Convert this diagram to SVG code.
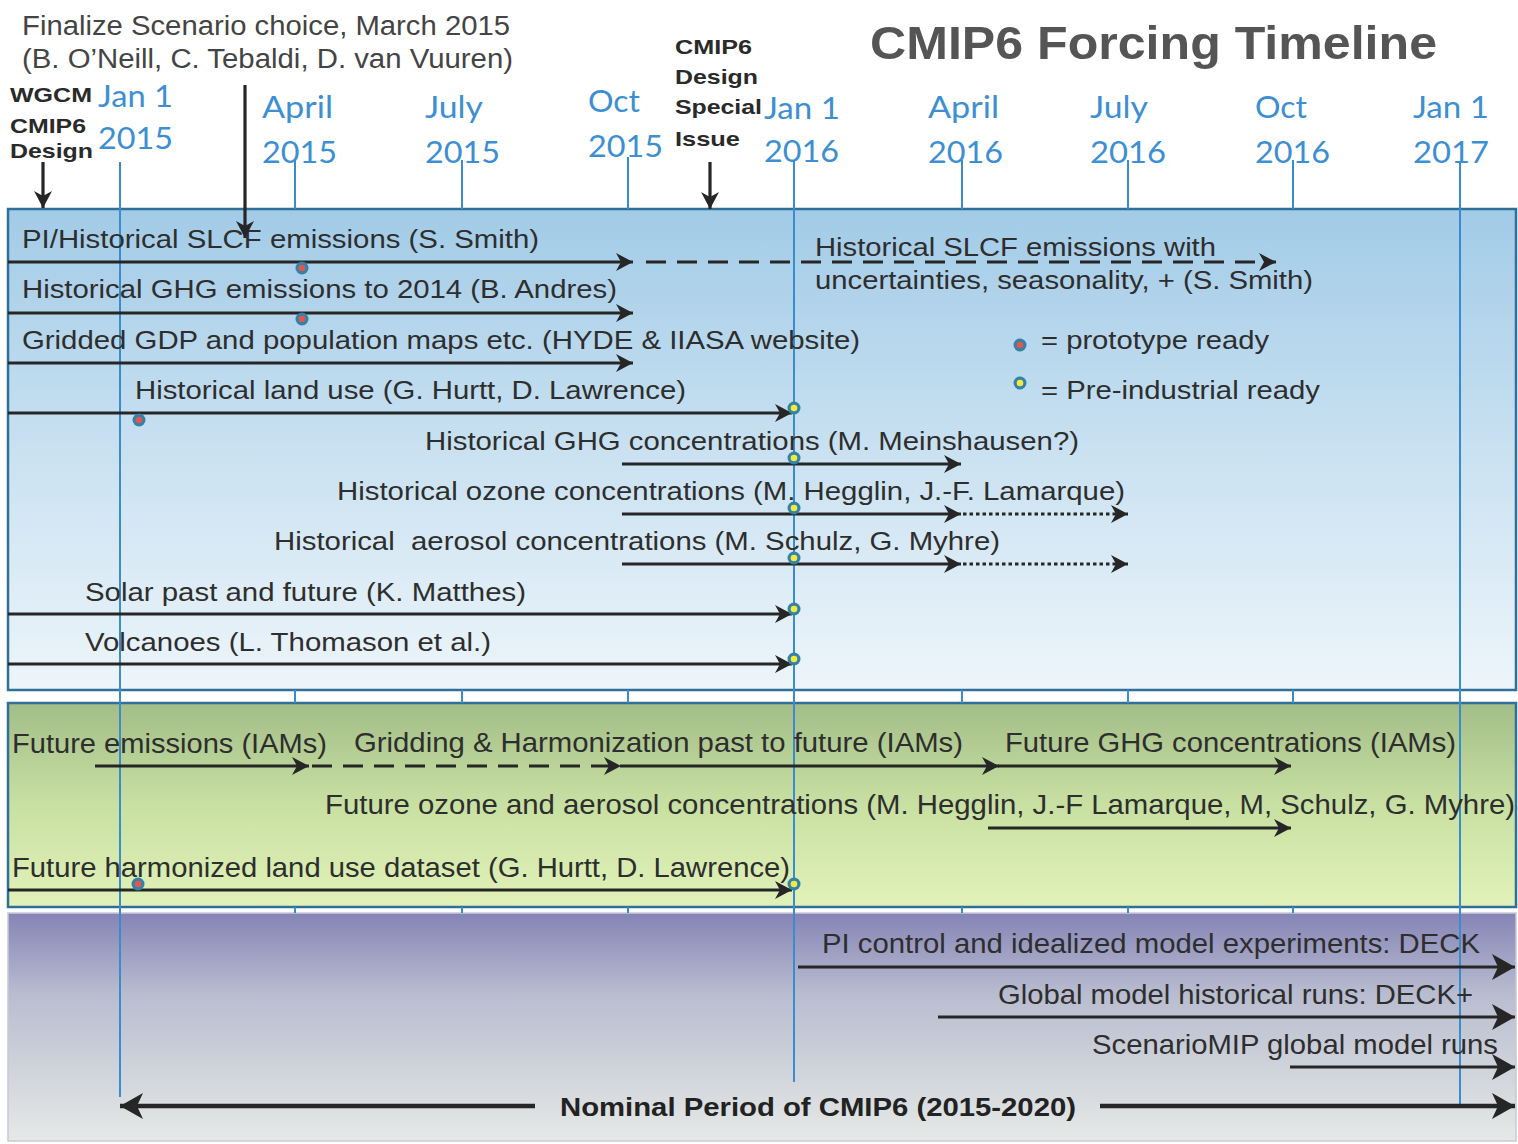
<svg xmlns="http://www.w3.org/2000/svg" xmlns:xlink="http://www.w3.org/1999/xlink" width="1518" height="1144" viewBox="0 0 1518 1144">
<style>
.hd{font-family:"Liberation Sans",Arial,sans-serif;font-size:27px;fill:#444}
.bk{font-family:"Liberation Sans",Arial,sans-serif;font-size:21px;font-weight:bold;fill:#2a2a2a}
.ttl{font-family:"Liberation Sans",Arial,sans-serif;font-size:46px;font-weight:bold;fill:#555}
.tl{font-family:Lato,"Open Sans",sans-serif;font-size:31px;fill:#3d8fd2}
.tx{font-family:"Liberation Sans",Arial,sans-serif;font-size:26px;fill:#2e2e2e}
.tn{font-family:"Liberation Sans",Arial,sans-serif;font-size:27.5px;fill:#2e2e2e}
.nom{font-family:"Liberation Sans",Arial,sans-serif;font-size:26px;font-weight:bold;fill:#222}
.vl{stroke:#3a8ccc;stroke-width:2;fill:none}
.ar{stroke:#262626;stroke-width:3.2;fill:none}
.ar2{stroke:#262626;stroke-width:4.5;fill:none}
.da{stroke-dasharray:20 11}
.dt{stroke-dasharray:3.5 3}
.pn{stroke:#2f6f98;stroke-width:2.5}
</style>
<defs>
<linearGradient id="g1" x1="0" y1="0" x2="0" y2="1">
<stop offset="0" stop-color="#a2cbe7"/><stop offset="0.5" stop-color="#c9e1f1"/><stop offset="1" stop-color="#edf5fa"/>
</linearGradient>
<linearGradient id="g2" x1="0" y1="0" x2="0" y2="1">
<stop offset="0" stop-color="#a3bd88"/><stop offset="0.5" stop-color="#c8e0a2"/><stop offset="1" stop-color="#e2f2b9"/>
</linearGradient>
<linearGradient id="g3" x1="0" y1="0" x2="0" y2="1">
<stop offset="0" stop-color="#8584b6"/><stop offset="0.35" stop-color="#b8bccf"/><stop offset="1" stop-color="#e5e9e6"/>
</linearGradient>
<marker id="ah" markerUnits="userSpaceOnUse" markerWidth="20" markerHeight="22" refX="18" refY="11" orient="auto">
<path d="M1,2 L18,11 L1,20 L6,11 z" fill="#262626"/>
</marker>
<marker id="ahb" markerUnits="userSpaceOnUse" markerWidth="26" markerHeight="30" refX="24" refY="15" orient="auto">
<path d="M1,2 L24,15 L1,28 L7,15 z" fill="#262626"/>
</marker>
<g id="dr"><circle r="6.5" fill="#3582a8"/><circle r="3.3" fill="#e2574b"/></g>
<g id="dy"><circle r="6.5" fill="#3582a8"/><circle r="3.3" fill="#f3ea3e"/></g>
</defs>
<rect width="1518" height="1144" fill="#ffffff"/>

<!-- panels -->
<g id="panel-historical"><rect class="pn" x="8" y="209" width="1508" height="481" fill="url(#g1)"/></g>
<g id="panel-future"><rect class="pn" x="8" y="703" width="1508" height="204" fill="url(#g2)"/></g>
<g id="panel-models"><rect x="8" y="913" width="1508" height="228" fill="url(#g3)" stroke="#c9c9d6" stroke-width="1.5"/></g>

<!-- header -->
<g id="header">
<text class="hd" x="22" y="35" textLength="488" lengthAdjust="spacingAndGlyphs">Finalize Scenario choice, March 2015</text>
<text class="hd" x="22" y="68" textLength="491" lengthAdjust="spacingAndGlyphs">(B. O’Neill, C. Tebaldi, D. van Vuuren)</text>
<text class="ttl" x="870" y="59" textLength="567" lengthAdjust="spacingAndGlyphs">CMIP6 Forcing Timeline</text>
</g>
<g id="wgcm">
<text class="bk" x="10" y="102" textLength="82" lengthAdjust="spacingAndGlyphs">WGCM</text>
<text class="bk" x="10" y="133" textLength="76" lengthAdjust="spacingAndGlyphs">CMIP6</text>
<text class="bk" x="10" y="158" textLength="83" lengthAdjust="spacingAndGlyphs">Design</text>
</g>
<g id="special-issue">
<text class="bk" x="675" y="54" textLength="77" lengthAdjust="spacingAndGlyphs">CMIP6</text>
<text class="bk" x="675" y="84" textLength="83" lengthAdjust="spacingAndGlyphs">Design</text>
<text class="bk" x="675" y="114" textLength="87" lengthAdjust="spacingAndGlyphs">Special</text>
<text class="bk" x="675" y="146" textLength="65" lengthAdjust="spacingAndGlyphs">Issue</text>
</g>

<!-- timeline labels -->
<g id="timeline-labels">
<text class="tl" x="98" y="107" textLength="75" lengthAdjust="spacingAndGlyphs">Jan 1</text>
<text class="tl" x="98" y="149" textLength="75" lengthAdjust="spacingAndGlyphs">2015</text>
<text class="tl" x="262" y="118" textLength="71" lengthAdjust="spacingAndGlyphs">April</text>
<text class="tl" x="262" y="163" textLength="75" lengthAdjust="spacingAndGlyphs">2015</text>
<text class="tl" x="425" y="118" textLength="58" lengthAdjust="spacingAndGlyphs">July</text>
<text class="tl" x="425" y="163" textLength="75" lengthAdjust="spacingAndGlyphs">2015</text>
<text class="tl" x="588" y="112" textLength="52" lengthAdjust="spacingAndGlyphs">Oct</text>
<text class="tl" x="588" y="157" textLength="75" lengthAdjust="spacingAndGlyphs">2015</text>
<text class="tl" x="764" y="119" textLength="76" lengthAdjust="spacingAndGlyphs">Jan 1</text>
<text class="tl" x="764" y="162" textLength="75" lengthAdjust="spacingAndGlyphs">2016</text>
<text class="tl" x="928" y="118" textLength="71" lengthAdjust="spacingAndGlyphs">April</text>
<text class="tl" x="928" y="163" textLength="75" lengthAdjust="spacingAndGlyphs">2016</text>
<text class="tl" x="1090" y="118" textLength="58" lengthAdjust="spacingAndGlyphs">July</text>
<text class="tl" x="1090" y="163" textLength="76" lengthAdjust="spacingAndGlyphs">2016</text>
<text class="tl" x="1255" y="118" textLength="52" lengthAdjust="spacingAndGlyphs">Oct</text>
<text class="tl" x="1255" y="163" textLength="75" lengthAdjust="spacingAndGlyphs">2016</text>
<text class="tl" x="1413" y="118" textLength="76" lengthAdjust="spacingAndGlyphs">Jan 1</text>
<text class="tl" x="1413" y="163" textLength="76" lengthAdjust="spacingAndGlyphs">2017</text>
</g>

<!-- grid lines -->
<g id="gridlines">
<line class="vl" x1="120" y1="162" x2="120" y2="1097"/>
<line class="vl" x1="794" y1="160" x2="794" y2="1082"/>
<line class="vl" x1="1460" y1="162" x2="1460" y2="1108"/>
<line class="vl" x1="295" y1="160" x2="295" y2="209"/>
<line class="vl" x1="462" y1="160" x2="462" y2="209"/>
<line class="vl" x1="628" y1="157" x2="628" y2="209"/>
<line class="vl" x1="962" y1="160" x2="962" y2="209"/>
<line class="vl" x1="1128" y1="160" x2="1128" y2="209"/>
<line class="vl" x1="1293" y1="160" x2="1293" y2="209"/>
<path class="vl" d="M295,690V703M462,690V703M628,690V703M962,690V703M1128,690V703M1293,690V703M295,907V913M462,907V913M628,907V913M962,907V913M1128,907V913M1293,907V913"/>
</g>

<!-- row labels -->
<g id="row-slcf"><text class="tx" x="22" y="248" textLength="517" lengthAdjust="spacingAndGlyphs">PI/Historical SLCF emissions (S. Smith)</text></g>
<g id="row-slcf-unc">
<text class="tx" x="815" y="256" textLength="401" lengthAdjust="spacingAndGlyphs">Historical SLCF emissions with</text>
<text class="tx" x="815" y="289" textLength="498" lengthAdjust="spacingAndGlyphs">uncertainties, seasonality, + (S. Smith)</text>
</g>
<g id="row-ghg-em"><text class="tx" x="22" y="298" textLength="595" lengthAdjust="spacingAndGlyphs">Historical GHG emissions to 2014 (B. Andres)</text></g>
<g id="row-gdp"><text class="tx" x="22" y="349" textLength="838" lengthAdjust="spacingAndGlyphs">Gridded GDP and population maps etc. (HYDE &amp; IIASA website)</text></g>
<g id="row-landuse"><text class="tx" x="135" y="399" textLength="551" lengthAdjust="spacingAndGlyphs">Historical land use (G. Hurtt, D. Lawrence)</text></g>
<g id="row-ghg-conc"><text class="tx" x="425" y="450" textLength="654" lengthAdjust="spacingAndGlyphs">Historical GHG concentrations (M. Meinshausen?)</text></g>
<g id="row-ozone"><text class="tx" x="337" y="500" textLength="788" lengthAdjust="spacingAndGlyphs">Historical ozone concentrations (M. Hegglin, J.-F. Lamarque)</text></g>
<g id="row-aerosol"><text class="tx" x="274" y="550" textLength="726" lengthAdjust="spacingAndGlyphs" xml:space="preserve">Historical  aerosol concentrations (M. Schulz, G. Myhre)</text></g>
<g id="row-solar"><text class="tx" x="85" y="601" textLength="441" lengthAdjust="spacingAndGlyphs">Solar past and future (K. Matthes)</text></g>
<g id="row-volc"><text class="tx" x="85" y="651" textLength="406" lengthAdjust="spacingAndGlyphs">Volcanoes (L. Thomason et al.)</text></g>
<g id="legend">
<use href="#dr" x="1020" y="345"/>
<text class="tx" x="1041" y="349" textLength="228" lengthAdjust="spacingAndGlyphs">= prototype ready</text>
<use href="#dy" x="1020" y="383"/>
<text class="tx" x="1041" y="399" textLength="279" lengthAdjust="spacingAndGlyphs">= Pre-industrial ready</text>
</g>

<g id="row-fut-em"><text class="tn" x="12" y="753" textLength="315" lengthAdjust="spacingAndGlyphs">Future emissions (IAMs)</text></g>
<g id="row-grid-harm"><text class="tn" x="354" y="752" textLength="609" lengthAdjust="spacingAndGlyphs">Gridding &amp; Harmonization past to future (IAMs)</text></g>
<g id="row-fut-ghg"><text class="tn" x="1005" y="752" textLength="451" lengthAdjust="spacingAndGlyphs">Future GHG concentrations (IAMs)</text></g>
<g id="row-fut-oz"><text class="tn" x="325" y="814" textLength="1190" lengthAdjust="spacingAndGlyphs">Future ozone and aerosol concentrations (M. Hegglin, J.-F Lamarque, M, Schulz, G. Myhre)</text></g>
<g id="row-fut-land"><text class="tn" x="12" y="877" textLength="778" lengthAdjust="spacingAndGlyphs">Future harmonized land use dataset (G. Hurtt, D. Lawrence)</text></g>

<g id="row-deck"><text class="tn" x="822" y="953" textLength="658" lengthAdjust="spacingAndGlyphs">PI control and idealized model experiments: DECK</text></g>
<g id="row-deckplus"><text class="tn" x="998" y="1004" textLength="475" lengthAdjust="spacingAndGlyphs">Global model historical runs: DECK+</text></g>
<g id="row-scenmip"><text class="tn" x="1092" y="1054" textLength="406" lengthAdjust="spacingAndGlyphs">ScenarioMIP global model runs</text></g>
<g id="row-nominal"><text class="nom" x="560" y="1116" textLength="516" lengthAdjust="spacingAndGlyphs">Nominal Period of CMIP6 (2015-2020)</text></g>

<!-- connectors -->
<g id="connectors">
<line class="ar" x1="43" y1="162" x2="43" y2="208" marker-end="url(#ah)"/>
<line class="ar" x1="245" y1="85" x2="245" y2="238" marker-end="url(#ah)"/>
<line class="ar" x1="710" y1="162" x2="710" y2="209" marker-end="url(#ah)"/>

<line class="ar" x1="8" y1="262" x2="633" y2="262" marker-end="url(#ah)"/>
<line class="ar da" x1="646" y1="262" x2="1276" y2="262" marker-end="url(#ah)"/>
<line class="ar" x1="8" y1="313" x2="633" y2="313" marker-end="url(#ah)"/>
<line class="ar" x1="8" y1="363" x2="633" y2="363" marker-end="url(#ah)"/>
<line class="ar" x1="8" y1="413" x2="792" y2="413" marker-end="url(#ah)"/>
<line class="ar" x1="622" y1="464" x2="961" y2="464" marker-end="url(#ah)"/>
<line class="ar" x1="622" y1="514" x2="961" y2="514" marker-end="url(#ah)"/>
<line class="ar dt" x1="963" y1="514" x2="1128" y2="514" marker-end="url(#ah)"/>
<line class="ar" x1="622" y1="564" x2="961" y2="564" marker-end="url(#ah)"/>
<line class="ar dt" x1="963" y1="564" x2="1128" y2="564" marker-end="url(#ah)"/>
<line class="ar" x1="8" y1="614" x2="792" y2="614" marker-end="url(#ah)"/>
<line class="ar" x1="8" y1="664" x2="792" y2="664" marker-end="url(#ah)"/>

<line class="ar" x1="95" y1="766" x2="309" y2="766" marker-end="url(#ah)"/>
<line class="ar da" x1="312" y1="766" x2="621" y2="766" marker-end="url(#ah)"/>
<line class="ar" x1="620" y1="766" x2="999" y2="766" marker-end="url(#ah)"/>
<line class="ar" x1="998" y1="766" x2="1291" y2="766" marker-end="url(#ah)"/>
<line class="ar" x1="988" y1="828" x2="1291" y2="828" marker-end="url(#ah)"/>
<line class="ar" x1="8" y1="890" x2="792" y2="890" marker-end="url(#ah)"/>

<line class="ar" x1="798" y1="967" x2="1515" y2="967" marker-end="url(#ahb)"/>
<line class="ar" x1="938" y1="1017" x2="1515" y2="1017" marker-end="url(#ahb)"/>
<line class="ar" x1="1290" y1="1067" x2="1515" y2="1067" marker-end="url(#ahb)"/>
<line class="ar2" x1="535" y1="1106" x2="120" y2="1106" marker-end="url(#ahb)"/>
<line class="ar2" x1="1100" y1="1106" x2="1515" y2="1106" marker-end="url(#ahb)"/>
</g>

<!-- status dots -->
<g id="dots">
<use href="#dr" x="302" y="268"/>
<use href="#dr" x="302" y="319"/>
<use href="#dr" x="139" y="420"/>
<use href="#dy" x="794" y="408"/>
<use href="#dy" x="794" y="458"/>
<use href="#dy" x="794" y="508"/>
<use href="#dy" x="794" y="558"/>
<use href="#dy" x="794" y="609"/>
<use href="#dy" x="794" y="659"/>
<use href="#dr" x="138" y="884"/>
<use href="#dy" x="794" y="884"/>
</g>
</svg>
